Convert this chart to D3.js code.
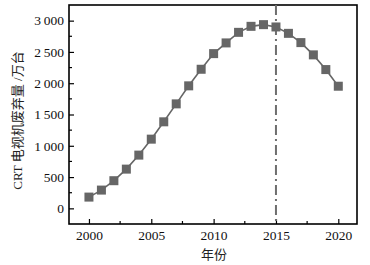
<!DOCTYPE html>
<html>
<head>
<meta charset="utf-8">
<script src="https://cdn.jsdelivr.net/npm/d3@7"></script>
<style>
  body { margin: 0; background: #fff; }
  text { font-family: "Liberation Serif", "Noto Sans CJK SC", serif; }
</style>
</head>
<body>
<div id="chart"></div>
<script>
// data
const years = [2000, 2001, 2002, 2003, 2004, 2005, 2006, 2007, 2008, 2009, 2010,
               2011, 2012, 2013, 2014, 2015, 2016, 2017, 2018, 2019, 2020];
const discarded = [180, 292, 442, 627, 851, 1106, 1383, 1670, 1958, 2223, 2473,
                   2644, 2813, 2909, 2936, 2899, 2797, 2649, 2453, 2218, 1952];
const xTicks = [2000, 2005, 2010, 2015, 2020];
const yTicks = [0, 500, 1000, 1500, 2000, 2500, 3000];
const markerYear = 2015;

const W = 370, H = 265;
const margin = { top: 5, right: 13, bottom: 41, left: 69 };
const width = W - margin.left - margin.right,
    height = H - margin.top - margin.bottom;

const svg = d3.select("#chart").append("svg")
    .attr("width", W)
    .attr("height", H)
    .append("g")
    .attr("transform", "translate(" + margin.left + "," + margin.top + ")");

const x = d3.scaleLinear().domain([1998.4, 2021.5]).range([0, width]);
const y = d3.scaleLinear().domain([-250, 3250]).range([height, 0]);

// format "3 000"
const fmt = d => d >= 1000 ? Math.floor(d / 1000) + "\u2009" + d3.format("03d")(d % 1000) : String(d);

// minor ticks
const xMinor = d3.range(2002.5, 2021, 5);
const yMinor = d3.range(250, 3250, 500);

svg.append("g").selectAll("line").data(xMinor).join("line")
    .attr("x1", d => x(d)).attr("x2", d => x(d))
    .attr("y1", height).attr("y2", height - 3)
    .attr("stroke", "#000").attr("stroke-width", 1.2);
svg.append("g").selectAll("line").data(yMinor).join("line")
    .attr("x1", 0).attr("x2", 3)
    .attr("y1", d => y(d)).attr("y2", d => y(d))
    .attr("stroke", "#000").attr("stroke-width", 1.2);

// major axes with inward ticks
const xAxis = svg.append("g")
    .attr("transform", "translate(0," + height + ")")
    .call(d3.axisBottom(x).tickValues(xTicks).tickFormat(d3.format("d"))
        .tickSizeInner(-5).tickSizeOuter(0).tickPadding(6));
const yAxis = svg.append("g")
    .call(d3.axisLeft(y).tickValues(yTicks).tickFormat(fmt)
        .tickSizeInner(-5).tickSizeOuter(0).tickPadding(5));

[xAxis, yAxis].forEach(a => {
    a.select(".domain").remove();
    a.selectAll(".tick line").attr("stroke", "#000").attr("stroke-width", 1.2);
    a.selectAll(".tick text").attr("fill", "#111").style("font-size", "13.5px")
        .style("font-family", "'Liberation Serif', serif");
});

// frame
svg.append("rect")
    .attr("width", width).attr("height", height)
    .attr("fill", "none").attr("stroke", "#000").attr("stroke-width", 1.6);

// dash-dot line at 2015
svg.append("line")
    .attr("x1", x(markerYear)).attr("x2", x(markerYear))
    .attr("y1", 0).attr("y2", height)
    .attr("stroke", "#6e6e6e").attr("stroke-width", 2)
    .attr("stroke-dasharray", "10,4,2,4");

// series line
const pts = years.map((d, i) => [d, discarded[i]]);
svg.append("path")
    .datum(pts)
    .attr("fill", "none")
    .attr("stroke", "#666")
    .attr("stroke-width", 1.6)
    .attr("d", d3.line().x(d => x(d[0])).y(d => y(d[1])));

// square markers
const s = 9;
svg.append("g").selectAll("rect").data(pts).join("rect")
    .attr("x", d => x(d[0]) - s / 2)
    .attr("y", d => y(d[1]) - s / 2)
    .attr("width", s).attr("height", s)
    .attr("fill", "#666");

// axis titles
svg.append("text")
    .attr("x", width / 2 + 1)
    .attr("y", height + 35)
    .attr("text-anchor", "middle")
    .style("font-size", "13px")
    .attr("fill", "#222")
    .text("年份");

svg.append("text")
    .attr("transform", "translate(" + (-47) + "," + (height / 2 + 6) + ") rotate(-90)")
    .attr("text-anchor", "middle")
    .style("font-size", "13px")
    .attr("fill", "#222")
    .text("CRT 电视机废弃量 /万台");
</script>
</body>
</html>
